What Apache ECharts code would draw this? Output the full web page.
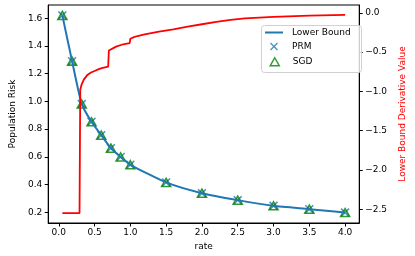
<!DOCTYPE html>
<html>
<head>
<meta charset="utf-8">
<script src="https://cdn.jsdelivr.net/npm/echarts@6/dist/echarts.min.js"></script>
<style>
html,body{margin:0;padding:0;background:#fff;}
#c{width:415px;height:256px;}
</style>
</head>
<body>
<div id="c"></div>
<script>
// ---- data ----
const rates = [0.05, 0.1857, 0.3214, 0.4571, 0.5929, 0.7286, 0.8643, 1.0, 1.5, 2.0, 2.5, 3.0, 3.5, 4.0];
const lowerBound = [1.62, 1.29, 0.98, 0.852, 0.756, 0.662, 0.598, 0.542, 0.415, 0.337, 0.287, 0.246, 0.222, 0.197];
const prm = [1.62, 1.29, 0.98, 0.852, 0.756, 0.662, 0.598, 0.542, 0.415, 0.337, 0.287, 0.246, 0.222, 0.197];
const sgd = [1.62, 1.29, 0.98, 0.852, 0.756, 0.662, 0.598, 0.542, 0.415, 0.337, 0.287, 0.246, 0.222, 0.197];

const derivRates = [0.05, 0.29, 0.30, 0.32, 0.35, 0.40, 0.45, 0.50, 0.55, 0.60, 0.69, 0.70, 0.80, 0.90, 0.99, 1.00, 1.05, 1.10, 1.20, 1.40, 1.60, 1.80, 2.00, 2.20, 2.40, 2.60, 3.00, 3.50, 4.00];
const derivValues = [-2.55, -2.55, -0.98, -0.91, -0.85, -0.79, -0.76, -0.74, -0.72, -0.705, -0.685, -0.48, -0.43, -0.40, -0.385, -0.33, -0.31, -0.295, -0.275, -0.24, -0.21, -0.175, -0.145, -0.115, -0.09, -0.07, -0.05, -0.035, -0.025];

const xTicks = [0, 0.5, 1.0, 1.5, 2.0, 2.5, 3.0, 3.5, 4.0];
const leftTicks = [0.2, 0.4, 0.6, 0.8, 1.0, 1.2, 1.4, 1.6];
const rightTicks = [0, -0.5, -1.0, -1.5, -2.0, -2.5];

const FONT = 'DejaVu Sans';
const FS = 9;
const xPath = 'path://M1.2,0 L5,3.8 L8.8,0 L10,1.2 L6.2,5 L10,8.8 L8.8,10 L5,6.2 L1.2,10 L0,8.8 L3.8,5 L0,1.2 Z';

const pairs = (xs, ys) => xs.map((x, i) => [x, ys[i]]);
const fmt1 = v => {
  const s = Math.abs(v).toFixed(1);
  return v < -1e-9 ? '\u2212' + s : s;
};

const chart = echarts.init(document.getElementById('c'), null, {renderer: 'canvas'});
chart.setOption({
  animation: false,
  backgroundColor: '#fff',
  textStyle: {fontFamily: FONT},
  grid: {left: 37, right: 46, top: 5, bottom: 32, show: true, borderColor: '#000', borderWidth: 1, containLabel: false},
  graphic: [{
    type: 'rect', left: 261, top: 25, z: 3,
    shape: {width: 100, height: 47, r: 3},
    style: {fill: 'rgba(255,255,255,0.8)', stroke: '#d0d0d0', lineWidth: 1}
  }],
  legend: [
    {data: [{name: 'Lower Bound', icon: 'rect'}], left: 265, top: 28, padding: 0, orient: 'vertical',
     itemWidth: 18, itemHeight: 2, selectedMode: false,
     textStyle: {fontFamily: FONT, fontSize: FS, color: '#000', padding: [0, 0, 0, 4]}},
    {data: [{name: 'PRM', icon: xPath, itemStyle: {color: '#1f77b4'}}], left: 270, top: 42, padding: 0,
     itemWidth: 8, itemHeight: 8, selectedMode: false,
     textStyle: {fontFamily: FONT, fontSize: FS, color: '#000', padding: [0, 0, 0, 9]}},
    {data: [{name: 'SGD', icon: 'triangle', itemStyle: {color: 'rgba(0,0,0,0)', borderColor: '#008000', borderWidth: 1.5}}], left: 269.5, top: 57, padding: 0,
     itemWidth: 9, itemHeight: 8, selectedMode: false,
     textStyle: {fontFamily: FONT, fontSize: FS, color: '#000', padding: [0, 0, 0, 8.5]}}
  ],
  xAxis: {
    type: 'value', min: -0.1475, max: 4.1975,
    name: 'rate', nameLocation: 'middle', nameGap: 19,
    nameTextStyle: {fontFamily: FONT, fontSize: FS, color: '#000'},
    axisLine: {show: true, onZero: false, lineStyle: {color: '#000', width: 1}},
    axisTick: {show: true, customValues: xTicks, length: 3.5, lineStyle: {color: '#000'}},
    axisLabel: {customValues: xTicks, formatter: fmt1, fontFamily: FONT, fontSize: FS, color: '#000', margin: 5},
    splitLine: {show: false}
  },
  yAxis: [{
    type: 'value', min: 0.122, max: 1.695, position: 'left',
    name: 'Population Risk', nameLocation: 'middle', nameGap: 26, nameRotate: 90,
    nameTextStyle: {fontFamily: FONT, fontSize: FS, color: '#000'},
    axisLine: {show: true, onZero: false, lineStyle: {color: '#000', width: 1}},
    axisTick: {show: true, customValues: leftTicks, length: 3.5, lineStyle: {color: '#000'}},
    axisLabel: {customValues: leftTicks, formatter: fmt1, fontFamily: FONT, fontSize: FS, color: '#000', margin: 6},
    splitLine: {show: false}
  }, {
    type: 'value', min: -2.676, max: 0.1, position: 'right',
    name: 'Lower Bound Derivative Value', nameLocation: 'middle', nameGap: 32, nameRotate: 90,
    nameTextStyle: {fontFamily: FONT, fontSize: FS, color: '#ff0000'},
    axisLine: {show: true, onZero: false, lineStyle: {color: '#000', width: 1}},
    axisTick: {show: true, customValues: rightTicks, length: 3.5, lineStyle: {color: '#000'}},
    axisLabel: {customValues: rightTicks, formatter: fmt1, fontFamily: FONT, fontSize: FS, color: '#000', margin: 6},
    splitLine: {show: false}
  }],
  series: [
    {name: 'Lower Bound', type: 'line', yAxisIndex: 0, data: pairs(rates, lowerBound),
     showSymbol: false, smooth: 0.2, lineStyle: {color: '#1f77b4', width: 2}, itemStyle: {color: '#1f77b4'}},
    {name: 'PRM', type: 'scatter', yAxisIndex: 0, data: pairs(rates, prm),
     symbol: xPath, symbolSize: 9, itemStyle: {color: '#1f77b4'}},
    {name: 'SGD', type: 'scatter', yAxisIndex: 0, data: pairs(rates, sgd),
     symbol: 'triangle', symbolSize: [9, 8],
     itemStyle: {color: 'rgba(0,0,0,0)', borderColor: '#008000', borderWidth: 1.6}},
    {name: 'Derivative', type: 'line', yAxisIndex: 1, data: pairs(derivRates, derivValues),
     showSymbol: false, lineStyle: {color: '#ff0000', width: 1.8}, itemStyle: {color: '#ff0000'}}
  ]
});
</script>
</body>
</html>
